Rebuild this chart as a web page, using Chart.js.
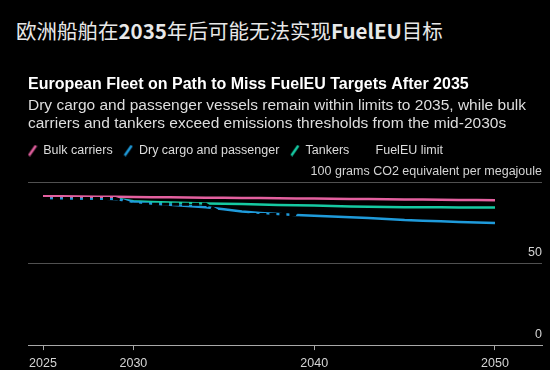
<!DOCTYPE html>
<html>
<head>
<meta charset="utf-8">
<script src="https://cdn.jsdelivr.net/npm/chart.js@4/dist/chart.umd.min.js"></script>
<style>
    html, body { margin: 0; padding: 0; background: #000; }
    #wrap { position: relative; width: 550px; height: 370px; overflow: hidden; }
    #header {
        position: absolute; left: 16px; top: 18px;
        font-family: "Noto Sans CJK SC", sans-serif;
        font-size: 20.5px; line-height: 25px; color: #e8e8e8; white-space: nowrap;
    }
    #header b { font-weight: 700; }
    canvas { position: absolute; left: 0; top: 0; }
</style>
</head>
<body>
<div id="wrap">
    <div id="header">欧洲船舶在<b>2035</b>年后可能无法实现<b>FuelEU</b>目标</div>
    <canvas id="fleetChart" width="550" height="370"></canvas>
</div>
<script>
// Years and emission intensity (grams CO2e per MJ)
const years = [2025, 2026, 2027, 2028, 2029, 2030, 2031, 2032, 2033, 2034, 2035, 2036, 2037,
    2038, 2039, 2040, 2041, 2042, 2043, 2044, 2045, 2046, 2047, 2048, 2049, 2050];
const bulkCarriers = [91.8, 91.7, 91.6, 91.5, 91.4, 91.3, 91.2, 91.1, 91.0, 90.9, 90.8, 90.7, 90.6,
    90.5, 90.4, 90.3, 90.2, 90.1, 90.0, 89.9, 89.8, 89.7, 89.6, 89.5, 89.4, 89.3];
const dryCargo = [90.6, 90.5, 90.4, 90.3, 90.1, 88.3, 87.2, 86.5, 85.8, 85.0, 83.8, 82.3, 81.5,
    80.8, 80.2, 79.7, 79.2, 78.8, 78.3, 77.8, 77.1, 76.7, 76.3, 75.9, 75.6, 75.3];
const tankers = [90.9, 90.8, 90.7, 90.5, 90.3, 88.6, 88.2, 87.9, 87.6, 87.3, 87.1, 86.9, 86.6,
    86.4, 86.2, 86.0, 85.7, 85.5, 85.3, 85.1, 85.0, 84.9, 84.9, 84.8, 84.8, 84.8];

// FuelEU limit (drawn in black, only shows where it cuts the other lines)
const limitYears = [2025, 2029, 2030, 2034, 2035, 2039, 2040, 2044];
const limitValues = [90.4, 90.4, 86.8, 86.8, 80.5, 80.5, 62.9, 62.9];

const xTicks = [2025, 2030, 2040, 2050];
const yTicks = [0, 50, 100];
const unitLabel = '100 grams CO2 equivalent per megajoule';

const colors = {
    bulk: '#e3609f',
    dry: '#1f9bdb',
    tankers: '#16c9a2',
    limit: '#000000'
};

const FONT = '"Liberation Sans", Arial, sans-serif';

// Slanted stroke used as legend marker
function slashIcon(color) {
    const c = document.createElement('canvas');
    c.width = 10;
    c.height = 12;
    const g = c.getContext('2d');
    g.strokeStyle = color;
    g.lineWidth = 2.5;
    g.lineCap = 'butt';
    g.beginPath();
    g.moveTo(1.5, 11);
    g.lineTo(8.5, 1);
    g.stroke();
    return c;
}

function toPoints(xs, ys) {
    return xs.map((x, i) => ({ x: x, y: ys[i] }));
}

function lineSet(label, xs, ys, color, extra) {
    return Object.assign({
        label: label,
        data: toPoints(xs, ys),
        borderColor: color,
        backgroundColor: color,
        borderWidth: 2.5,
        pointRadius: 0,
        pointHoverRadius: 0,
        tension: 0,
        fill: false,
        pointStyle: slashIcon(color)
    }, extra || {});
}

// legend in the original sits flush with the left margin
const legendShift = {
    id: 'legendShift',
    afterLayout(chart) {
        chart.legend.left -= 11;
        chart.legend.right -= 11;
    }
};

const ctx = document.getElementById('fleetChart').getContext('2d');

new Chart(ctx, {
    type: 'line',
    data: {
        datasets: [
            lineSet('Bulk carriers', years, bulkCarriers, colors.bulk),
            lineSet('Dry cargo and passenger', years, dryCargo, colors.dry),
            lineSet('Tankers', years, tankers, colors.tankers),
            lineSet('FuelEU limit', limitYears, limitValues, colors.limit, {
                borderDash: [7, 3],
                borderWidth: 3,
                order: -1
            })
        ]
    },
    plugins: [legendShift],
    options: {
        responsive: false,
        animation: false,
        devicePixelRatio: 1,
        layout: {
            padding: { top: 75.4, left: 28, right: 8, bottom: -7.7 }
        },
        plugins: {
            title: {
                display: true,
                text: 'European Fleet on Path to Miss FuelEU Targets After 2035',
                align: 'start',
                color: '#ffffff',
                font: { family: FONT, size: 16, weight: 'bold', lineHeight: 1.2 },
                padding: { top: 0, bottom: 1.5 }
            },
            subtitle: {
                display: true,
                text: [
                    'Dry cargo and passenger vessels remain within limits to 2035, while bulk',
                    'carriers and tankers exceed emissions thresholds from the mid-2030s'
                ],
                align: 'start',
                color: '#dedede',
                font: { family: FONT, size: 15.5, lineHeight: 1.2 },
                padding: { top: 0, bottom: 0 }
            },
            legend: {
                display: true,
                position: 'top',
                align: 'start',
                labels: {
                    usePointStyle: true,
                    boxWidth: 9,
                    boxHeight: 9,
                    padding: 11,
                    color: '#dcdcdc',
                    font: { family: FONT, size: 12.5 },
                    sort: (a, b) => a.datasetIndex - b.datasetIndex
                }
            },
            tooltip: { enabled: false }
        },
        scales: {
            x: {
                type: 'linear',
                min: 2024.17,
                max: 2052.6,
                afterBuildTicks: scale => {
                    scale.ticks = xTicks.map(v => ({ value: v }));
                },
                grid: {
                    display: true,
                    drawOnChartArea: false,
                    drawTicks: true,
                    tickLength: 5,
                    color: '#a8a8a8'
                },
                border: { display: true, color: '#a8a8a8', width: 1 },
                ticks: {
                    color: '#d4d4d4',
                    padding: 6.3,
                    maxRotation: 0,
                    autoSkip: false,
                    font: { family: FONT, size: 12.5 },
                    callback: v => String(v)
                }
            },
            y: {
                position: 'right',
                min: 0,
                max: 109.9,
                afterBuildTicks: scale => {
                    scale.ticks = yTicks.map(v => ({ value: v }));
                },
                grid: {
                    drawTicks: false,
                    color: c => (c.tick && c.tick.value === 0) ? '#a8a8a8' : '#505050',
                    lineWidth: 1
                },
                border: { display: false },
                ticks: {
                    mirror: true,
                    padding: 0,
                    labelOffset: -11,
                    color: '#d4d4d4',
                    font: { family: FONT, size: 12.5 },
                    callback: v => v === 100 ? unitLabel : String(v)
                }
            }
        }
    }
});
</script>
</body>
</html>
